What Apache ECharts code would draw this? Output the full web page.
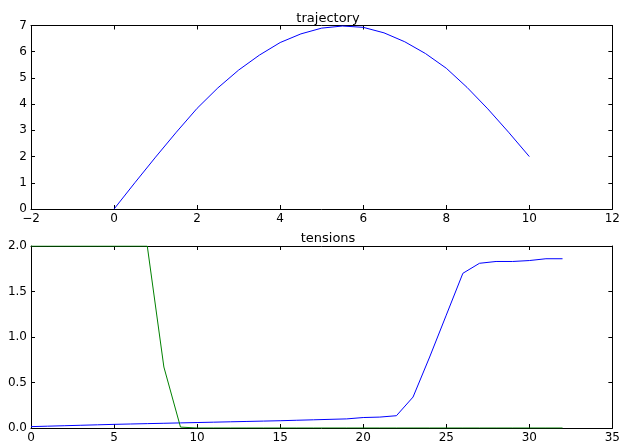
<!DOCTYPE html>
<html>
<head>
<meta charset="utf-8">
<script src="https://cdn.jsdelivr.net/npm/echarts@6/dist/echarts.min.js"></script>
<style>
  html, body { margin: 0; padding: 0; background: #fff; }
  #chart { width: 623px; height: 447px; }
</style>
</head>
<body>
<div id="chart"></div>
<script>
// trajectory (x, y)
var trajX = [0, 0.5, 1, 1.5, 2, 2.5, 3, 3.5, 4, 4.5, 5, 5.5, 6, 6.5, 7, 7.5, 8, 8.5, 9, 9.5, 10]
var trajY = [0, 1.0, 1.98, 2.93, 3.84, 4.62, 5.3, 5.87, 6.35, 6.68, 6.9, 6.98, 6.93, 6.72, 6.38, 5.93, 5.37, 4.64, 3.82, 2.93, 2.0]

// tensions, one value per step
var steps = [0, 1, 2, 3, 4, 5, 6, 7, 8, 9, 10, 11, 12, 13, 14, 15, 16, 17, 18, 19, 20, 21, 22, 23, 24, 25, 26, 27, 28, 29, 30, 31, 32]
var tensionBlue = [0.015, 0.02, 0.025, 0.03, 0.035, 0.04, 0.044, 0.048, 0.052, 0.056, 0.06, 0.064, 0.068, 0.072, 0.076, 0.08, 0.085, 0.09, 0.095, 0.1, 0.115, 0.12, 0.135,
  0.34, 0.78, 1.24, 1.70, 1.81, 1.83, 1.83, 1.84, 1.86, 1.86]
var tensionGreen = [2, 2, 2, 2, 2, 2, 2, 2, 0.67, 0.01, 0, 0, 0, 0, 0, 0, 0, 0, 0, 0, 0, 0, 0,
  0, 0, 0, 0, 0, 0, 0, 0, 0, 0]

function pairs(xs, ys) {
  return xs.map(function (x, i) { return [x, ys[i]] })
}

var font = 'DejaVu Sans'
var tick = { show: true, inside: true, length: 4, lineStyle: { color: '#000', width: 1 } }
var line = { show: true, onZero: false, lineStyle: { color: '#000', width: 1 } }

function minus(v) {
  return String(v).replace('-', '\u2212')
}

function xPair(grid, min, max, interval) {
  return [
    {
      type: 'value', gridIndex: grid, min: min, max: max, interval: interval, position: 'bottom',
      axisLine: line, axisTick: tick, splitLine: { show: false },
      axisLabel: { color: '#000', fontFamily: font, fontSize: 12, margin: 4, formatter: minus }
    },
    {
      type: 'value', gridIndex: grid, min: min, max: max, interval: interval, position: 'top',
      axisLine: line, axisTick: tick, splitLine: { show: false }, axisLabel: { show: false }
    }
  ]
}

function yPair(grid, min, max, interval, fmt) {
  return [
    {
      type: 'value', gridIndex: grid, min: min, max: max, interval: interval, position: 'left',
      axisLine: line, axisTick: tick, splitLine: { show: false },
      axisLabel: { color: '#000', fontFamily: font, fontSize: 12, margin: 4, formatter: fmt }
    },
    {
      type: 'value', gridIndex: grid, min: min, max: max, interval: interval, position: 'right',
      axisLine: line, axisTick: tick, splitLine: { show: false }, axisLabel: { show: false }
    }
  ]
}

var chart = echarts.init(document.getElementById('chart'), null, { renderer: 'canvas' })
var option = {
  animation: false,
  backgroundColor: '#fff',
  title: [
    { text: 'trajectory', left: 323, top: 7, textAlign: 'center',
      textStyle: { fontFamily: font, fontSize: 13, fontWeight: 'normal', color: '#000' } },
    { text: 'tensions', left: 323, top: 227, textAlign: 'center',
      textStyle: { fontFamily: font, fontSize: 13, fontWeight: 'normal', color: '#000' } }
  ],
  grid: [
    { left: 31, right: 7, top: 25.5, height: 183.5 },
    { left: 31, right: 7, top: 246, height: 182 }
  ],
  xAxis: xPair(0, -2, 12, 2).concat(xPair(1, 0, 35, 5)),
  yAxis: yPair(0, 0, 7, 1, minus).concat(yPair(1, 0, 2, 0.5, function (v) { return v.toFixed(1) })),
  series: [
    {
      name: 'trajectory', type: 'line', xAxisIndex: 0, yAxisIndex: 0,
      data: pairs(trajX, trajY), showSymbol: false, smooth: false,
      lineStyle: { color: '#0000ff', width: 1 }
    },
    {
      name: 'blue', type: 'line', xAxisIndex: 2, yAxisIndex: 2,
      data: pairs(steps, tensionBlue), showSymbol: false,
      lineStyle: { color: '#0000ff', width: 1 }
    },
    {
      name: 'green', type: 'line', xAxisIndex: 2, yAxisIndex: 2,
      data: pairs(steps, tensionGreen), showSymbol: false,
      lineStyle: { color: '#008000', width: 1 }
    }
  ]
}
chart.setOption(option)
</script>
</body>
</html>
